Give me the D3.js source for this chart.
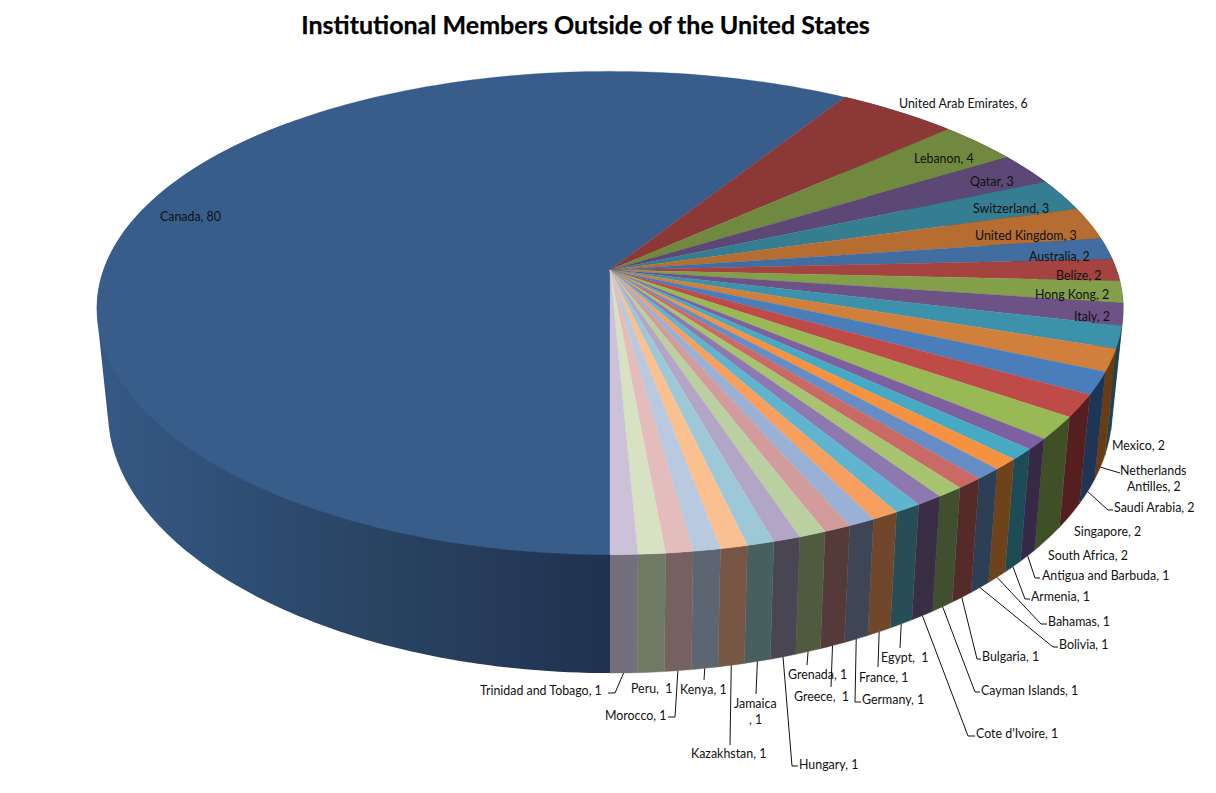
<!DOCTYPE html>
<html>
<head>
<meta charset="utf-8">
<script src="https://cdn.jsdelivr.net/npm/d3@7"></script>
<style>
html,body{margin:0;padding:0;background:#fff;}
svg{display:block;}
text{font-family:Lato,"Open Sans",sans-serif;}
</style>
</head>
<body>
<svg id="chart" width="1216" height="793"></svg>
<script>
// ---------- data ----------
const chartTitle = "Institutional Members Outside of the United States";
const countries = ["Canada","United Arab Emirates","Lebanon","Qatar","Switzerland","United Kingdom","Australia","Belize","Hong Kong","Italy","Mexico","Netherlands Antilles","Saudi Arabia","Singapore","South Africa","Antigua and Barbuda","Armenia","Bahamas","Bolivia","Bulgaria","Cayman Islands","Cote d'Ivoire","Egypt","France","Germany","Greece","Grenada","Hungary","Jamaica","Kazakhstan","Kenya","Morocco","Peru","Trinidad and Tobago"];
const members = [80,6,4,3,3,3,2,2,2,2,2,2,2,2,2,1,1,1,1,1,1,1,1,1,1,1,1,1,1,1,1,1,1,1];
// ---------- styling ----------
const topColors = ["#385d8a","#8c3836","#71893f","#5c4776","#357d91","#b66d31","#426da1","#a44340","#839f4a","#6c5285","#3d92ab","#d0803a","#4a7ebb","#be4b48","#98b954","#7d60a0","#46aac5","#f59240","#678dc6","#ca6a66","#a7c36f","#8d78af","#5fb4cf","#f79f5e","#9ab1d5","#d19c9b","#bad0a0","#b3a5c6","#9dc8d8","#fac090","#b9cae0","#e3bcbb","#d7e2c2","#cdc1d9"];
const wallColors = ["#2b4568","#4a1f1e","#3f4d24","#33274a","#1d4a56","#6b3f1a","#24405f","#551f1f","#3f5026","#372a49","#174754","#6b3c12","#1f3556","#551f1f","#3f5026","#372a49","#1d4b56","#6f4319","#2d3e57","#552b2a","#424f2e","#3a2e45","#274e56","#70472a","#3e4655","#553a3a","#505a3e","#4a4552","#47605f","#775744","#5c6672","#75615f","#6f7a63","#736f7c"];
// label layout: [text, left x, middle y] per line, keyed by country
const labelLines = {
 "Canada":[["Canada, 80",160,216]],
 "United Arab Emirates":[["United Arab Emirates, 6",899,103]],
 "Lebanon":[["Lebanon, 4",914,158]],
 "Qatar":[["Qatar, 3",970,181]],
 "Switzerland":[["Switzerland, 3",973,208]],
 "United Kingdom":[["United Kingdom, 3",975,235]],
 "Australia":[["Australia, 2",1029,256]],
 "Belize":[["Belize, 2",1056,275]],
 "Hong Kong":[["Hong Kong, 2",1035,294]],
 "Italy":[["Italy, 2",1074,316]],
 "Mexico":[["Mexico, 2",1112,445]],
 "Netherlands Antilles":[["Netherlands",1120,470],["Antilles, 2",1127,486]],
 "Saudi Arabia":[["Saudi Arabia, 2",1114,507]],
 "Singapore":[["Singapore, 2",1074,531]],
 "South Africa":[["South Africa, 2",1048,555]],
 "Antigua and Barbuda":[["Antigua and Barbuda, 1",1042,575]],
 "Armenia":[["Armenia, 1",1031,596]],
 "Bahamas":[["Bahamas, 1",1048,621]],
 "Bolivia":[["Bolivia, 1",1059,644]],
 "Bulgaria":[["Bulgaria, 1",982,656]],
 "Cayman Islands":[["Cayman Islands, 1",981,690]],
 "Cote d'Ivoire":[["Cote d'Ivoire, 1",976,733]],
 "Egypt":[["Egypt,  1",881,657]],
 "France":[["France, 1",859,677]],
 "Germany":[["Germany, 1",862,699]],
 "Greece":[["Greece,  1",794,696]],
 "Grenada":[["Grenada, 1",788,674]],
 "Hungary":[["Hungary, 1",799,764]],
 "Jamaica":[["Jamaica",734,703],[", 1",749,719]],
 "Kazakhstan":[["Kazakhstan, 1",691,753]],
 "Kenya":[["Kenya, 1",680,689]],
 "Morocco":[["Morocco, 1",605,715]],
 "Peru":[["Peru,  1",631,688]],
 "Trinidad and Tobago":[["Trinidad and Tobago, 1",480,690]]
};
// leader line waypoints after the rim point
const leaderStops = {
 "Netherlands Antilles":[[1120,473]],
 "Saudi Arabia":[[1108,510],[1113,510]],
 "Antigua and Barbuda":[[1035,578],[1040,578]],
 "Armenia":[[1025,599],[1030,599]],
 "Bahamas":[[1041,624],[1047,624]],
 "Bolivia":[[1053,647],[1058,647]],
 "Bulgaria":[[977,659],[981,659]],
 "Cayman Islands":[[975,692],[980,692]],
 "Cote d'Ivoire":[[968,736],[975,736]],
 "Egypt":[[900,648]],
 "France":[[878,667]],
 "Germany":[[855,702],[861,702]],
 "Greece":[[831,687]],
 "Grenada":[[807,665]],
 "Hungary":[[792,766],[798,766]],
 "Jamaica":[[756,694]],
 "Kazakhstan":[[730,745]],
 "Kenya":[[704,680]],
 "Morocco":[[675,717],[668,717]],
 "Trinidad and Tobago":[[615,693],[608,693]]
};
// ---------- projection ----------
const perspY = 0.178, perspX = 0.16;
const topDisc = {cx:610, cy:270, a:506.5, b:234};
const baseDisc = {cx:610, cy:371.4, a:495.5, b:248};
function project(disc, theta){
  const u = Math.sin(theta), v = -Math.cos(theta);
  return [disc.cx + disc.a*u/(1 - perspX*v), disc.cy + disc.b*v/(1 - perspY*v)];
}
function arcPoints(disc, a0, a1){
  const n = Math.max(2, Math.ceil(Math.abs(a1-a0)/(Math.PI/180)));
  return d3.range(n+1).map(i => project(disc, a0 + (a1-a0)*i/n));
}
const svg = d3.select("#chart");
const line = d3.line();
const color = d3.scaleOrdinal().domain(countries).range(topColors);
const wall = d3.scaleOrdinal().domain(countries).range(wallColors);
const rows = countries.map((c,i)=>({country:c,value:members[i]}));
const slices = d3.pie().sort(null).value(d=>d.value).startAngle(Math.PI).endAngle(3*Math.PI)(rows);

// Canada wall shading
const defs = svg.append("defs");
const grad = defs.append("linearGradient").attr("id","canadaWall").attr("gradientUnits","userSpaceOnUse")
  .attr("x1",100).attr("x2",610).attr("y1",0).attr("y2",0);
[[0,"#355985"],[0.25,"#2f4f76"],[0.5,"#2a4565"],[0.75,"#263c5a"],[1,"#1f3250"]].forEach(s=>
  grad.append("stop").attr("offset",s[0]).attr("stop-color",s[1]));

// walls: right side back to front, then left
const wallGroup = svg.append("g");
const minRight = Math.PI/4, maxLeft = 1.75*Math.PI;
const wallOrder = slices.slice(1).filter(s=>s.endAngle-2*Math.PI>minRight)
  .sort((a,b)=>a.startAngle-b.startAngle);
const wallPath = s => {
  const a0 = s.startAngle, a1 = s.index===0 ? maxLeft : s.endAngle;
  const pts = arcPoints(topDisc,a0,a1).concat(arcPoints(baseDisc,a1,a0));
  return line(d3.polygonHull(pts))+"Z";
};
wallGroup.selectAll("path.w").data(wallOrder).join("path").attr("class","w")
  .attr("d",wallPath)
  .attr("fill",s=>wall(s.data.country))
  .attr("stroke",s=>wall(s.data.country)).attr("stroke-width",0.4);
wallGroup.append("path").datum(slices[0]).attr("d",wallPath).attr("fill","url(#canadaWall)");

// top face
svg.append("g").selectAll("path").data(slices).join("path")
  .attr("d",s=>line([[topDisc.cx,topDisc.cy]].concat(arcPoints(topDisc,s.startAngle,s.endAngle)))+"Z")
  .attr("fill",s=>color(s.data.country))
  .attr("stroke",s=>color(s.data.country)).attr("stroke-width",0.3);

// leader lines
svg.append("g").selectAll("path").data(slices.filter(s=>leaderStops[s.data.country])).join("path")
  .attr("d",s=>line([project(baseDisc,(s.startAngle+s.endAngle)/2)].concat(leaderStops[s.data.country])))
  .attr("fill","none").attr("stroke","#111").attr("stroke-width",1);

// labels
const lab = svg.append("g").selectAll("g").data(slices).join("g");
lab.selectAll("text").data(s=>labelLines[s.data.country]).join("text")
  .attr("x",d=>d[1]).attr("y",d=>d[2]+0.6).attr("dy","0.35em")
  .attr("font-size",12.4).attr("fill","#111").style("white-space","pre")
  .text(d=>d[0]);

// title
svg.append("text").attr("x",585.5).attr("y",34).attr("text-anchor","middle")
  .attr("font-size",25).attr("font-weight",700).attr("fill","#000")
  .attr("stroke","#000").attr("stroke-width",0.25).text(chartTitle);
</script>
</body>
</html>
